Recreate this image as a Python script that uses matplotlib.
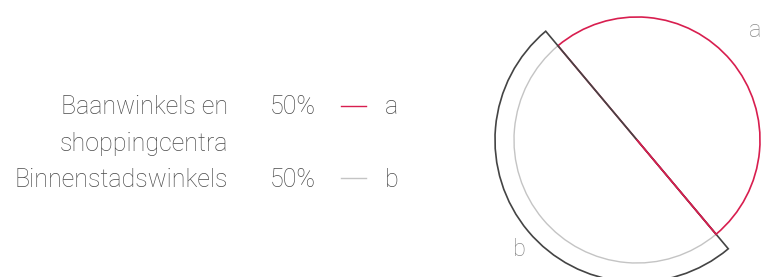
import textwrap
import numpy as np
import matplotlib.pyplot as plt

categories = ["Baanwinkels en shoppingcentra", "Binnenstadswinkels"]
values = [50, 50]
keys = ["a", "b"]

crimson = "#d81e4f"
dark = "#444444"
light = "#c4c4c4"
text_col = "#4a4a4a"

plt.rcParams['font.family'] = ['Roboto', 'DejaVu Sans']

W, H = 762, 277
fig = plt.figure(figsize=(W / 100, H / 100), dpi=100)

# pie axes: centre at (637, 140) px, radius 1 = 123 px
cx, cy, r_px, half = 637, H - 140, 123, 1.3
size = 2 * half * r_px
ax = fig.add_axes([(cx - size / 2) / W, (cy - size / 2) / H, size / W, size / H])

# outer wedge (slice b only, dark outline)
outer, _ = ax.pie(values, radius=142 / 123, startangle=-50, counterclock=True,
                  wedgeprops=dict(facecolor="none", linewidth=1.2))
outer[0].set_edgecolor("none")
outer[1].set_edgecolor(dark)
outer[1].set_zorder(4)

# inner pie
inner, _ = ax.pie(values, radius=1, startangle=-50, counterclock=True,
                  wedgeprops=dict(facecolor="none", linewidth=1.0))
inner[0].set_edgecolor(crimson)
inner[0].set_linewidth(1.2)
inner[0].set_zorder(3)
inner[1].set_edgecolor(light)
inner[1].set_zorder(1)

# crimson edge of slice a on top in the lower right
w = inner[0]
t1 = np.deg2rad(w.theta1)
ax.plot([0, w.r * np.cos(t1)], [0, w.r * np.sin(t1)], color=crimson, lw=1.2, zorder=5)

# slice letters
for wd, k in zip(inner, keys):
    mid = np.deg2rad((wd.theta1 + wd.theta2) / 2 + 3)
    ax.text(1.31 * np.cos(mid), 1.31 * np.sin(mid), k, ha="center", va="center",
            fontsize=17, color="#8a8a8a", fontweight="light")

ax.set_xlim(-half, half)
ax.set_ylim(-half, half)
ax.set_aspect("auto")
ax.axis("off")

# legend on the left
rows_y = [114, 187]
line_y = [106, 177.5]
legend_cols = [crimson, light]
for i, cat in enumerate(categories):
    y = 1 - rows_y[i] / H
    name = textwrap.fill(cat, 18)
    n = name.count("\n")
    fig.text(228 / W, 1 - (rows_y[i] + 37 * n) / H, name, ha="right", va="baseline",
             fontsize=18, color=text_col, linespacing=1.68, fontweight="light")
    fig.text(316 / W, y, f"{values[i]}%", ha="right", va="baseline",
             fontsize=18, color=text_col, fontweight="light")
    ly = 1 - line_y[i] / H
    fig.add_artist(plt.Line2D([341 / W, 366 / W], [ly, ly], color=legend_cols[i], lw=1.0))
    fig.text(385 / W, y, keys[i], ha="left", va="baseline",
             fontsize=18, color=text_col, fontweight="light")

fig.savefig("out.png", dpi=100)
